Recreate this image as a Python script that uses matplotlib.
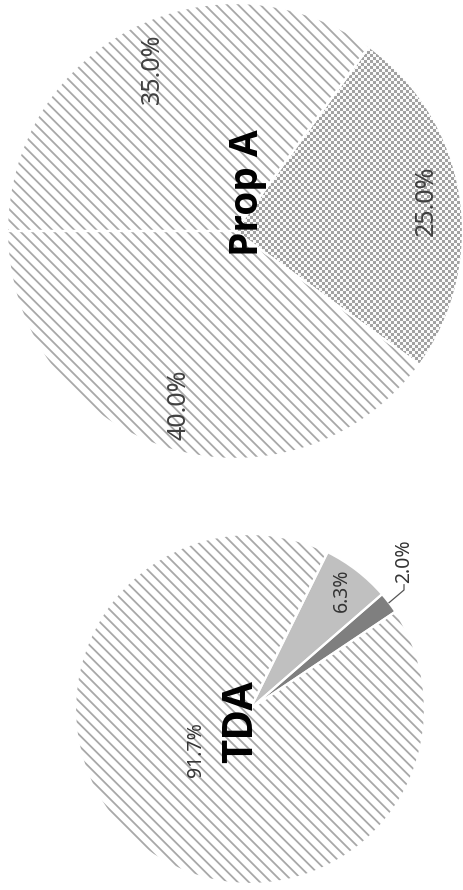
import numpy as np
import matplotlib
matplotlib.use('Agg')
import matplotlib.pyplot as plt
from matplotlib.colors import ListedColormap
from matplotlib import font_manager

# data
prop_values = [40.0, 35.0, 25.0]
prop_labels = ['40.0%', '35.0%', '25.0%']
tda_values = [91.7, 6.3, 2.0]
tda_labels = ['91.7%', '6.3%', '2.0%']

plt.rcParams['font.family'] = ['Noto Sans', 'DejaVu Sans']
plt.rcParams['hatch.linewidth'] = 1.3

# pick a family that really has a bold face
BOLD = 'DejaVu Sans'
for fam in ['Noto Sans', 'Open Sans', 'Lato', 'Roboto', 'Inter']:
    names = [f for f in font_manager.fontManager.ttflist
             if f.name == fam and f.weight in (700, 'bold')]
    if names:
        BOLD = fam
        break

W, H = 464, 890
fig = plt.figure(figsize=(W / 100, H / 100), dpi=100)

STRIPE = '#a8a8a8'


def px_axes(cx, cy, r):
    # square axes placed by pixel centre / radius
    return fig.add_axes([(cx - r) / W, 1 - (cy + r) / H, 2 * r / W, 2 * r / H])


def separators(ax, values, start):
    ax.pie(values, startangle=start, counterclock=False,
           wedgeprops=dict(facecolor='none', edgecolor='white', linewidth=1.6, zorder=3))


def mid_point(w, d):
    a = np.deg2rad((w.theta1 + w.theta2) / 2)
    return d * np.cos(a), d * np.sin(a)


# ---- Prop A (top) ----
ax1 = px_axes(235, 231, 228)
w1, _ = ax1.pie(prop_values, startangle=-36, counterclock=False,
                wedgeprops=dict(linewidth=0))
for w in w1[:2]:
    w.set_facecolor('white')
    w.set_edgecolor(STRIPE)
    w.set_hatch('\\\\\\')
w1[2].set_facecolor('none')
w1[2].set_edgecolor('none')

n = 456
yy, xx = np.mgrid[0:n, 0:n]
checker = ((yy // 3 + xx // 3) % 2).astype(float)
im = ax1.imshow(checker, extent=(-1, 1, -1, 1), cmap=ListedColormap(['#a2a2a2', '#fbfbfb']),
                interpolation='nearest', zorder=1)
im.set_clip_path(w1[2])
separators(ax1, prop_values, -36)

for w, lab, d in zip(w1, prop_labels, [0.80, 0.80, 0.85]):
    x, y = mid_point(w, d)
    ax1.text(x, y, lab, rotation=90, ha='center', va='center', fontsize=18, color='#404040', zorder=5)
ax1.text(0.053, 0.167, 'Prop A', rotation=90, ha='center', va='center', family=BOLD,
         fontsize=28, fontweight='bold', color='black', zorder=5)
ax1.set_xlim(-1, 1)
ax1.set_ylim(-1, 1)
ax1.axis('off')

# ---- TDA (bottom) ----
ax2 = px_axes(250, 709, 175)
w2, _ = ax2.pie(tda_values, startangle=33.8, counterclock=False,
                wedgeprops=dict(linewidth=0))
w2[0].set_facecolor('white')
w2[0].set_edgecolor(STRIPE)
w2[0].set_hatch('\\\\\\')
w2[1].set_facecolor('#c0c0c0')
w2[2].set_facecolor('#7f7f7f')
separators(ax2, tda_values, 33.8)

ax2.text(-0.309, -0.234, tda_labels[0], rotation=90, ha='center', va='center',
         fontsize=14, color='#333333', zorder=5)
x, y = mid_point(w2[1], 0.855)
ax2.text(x, y, tda_labels[1], rotation=90, ha='center', va='center', fontsize=14, color='#333333', zorder=5)
# leader line for the small slice
ex, ey = mid_point(w2[2], 1.0)
ax2.plot([ex, 0.88, 0.88], [ey, 0.68, 0.71], color='#555555', lw=0.9, clip_on=False, zorder=5)
ax2.text(0.88, 0.72, tda_labels[2], rotation=90, ha='center', va='bottom', fontsize=14, color='#333333', zorder=5)
ax2.text(-0.046, -0.069, 'TDA', rotation=90, ha='center', va='center', family=BOLD,
         fontsize=30, fontweight='bold', color='black', zorder=5)
ax2.set_xlim(-1, 1)
ax2.set_ylim(-1, 1)
ax2.axis('off')

fig.savefig('out.png', dpi=100, facecolor='white')
